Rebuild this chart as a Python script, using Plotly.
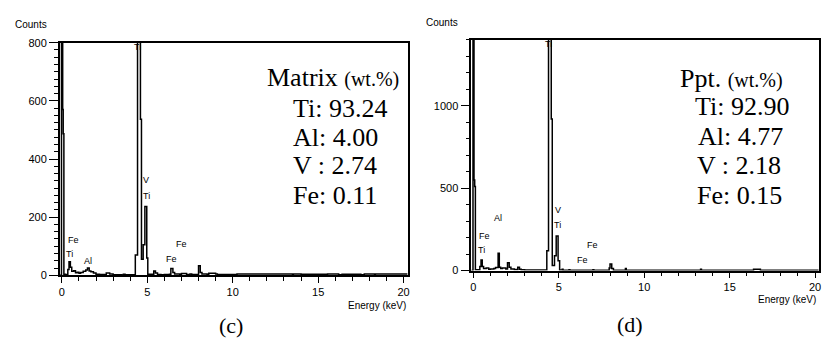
import plotly.graph_objects as go

W, H = 824, 347

# ---- spectrum (c): Matrix ----
energy_c = [-0.12, -0.02, 0.05, 0.08, 0.12, 0.2, 0.35, 0.42, 0.5, 0.58,
            0.7, 0.8, 0.9, 1.0, 1.1, 1.25, 1.4, 1.5, 1.6, 1.7,
            1.85, 2.0, 2.2, 2.5, 2.6, 2.8, 3.0, 3.5, 3.6, 3.7,
            4.2, 4.3, 4.43, 4.6, 4.66, 4.76, 4.86, 4.97, 5.03, 5.3,
            5.38, 5.48, 5.6, 5.8, 6.0, 6.3, 6.38, 6.5, 6.6, 6.9,
            7.0, 7.3, 7.5, 7.6, 7.95, 8.0, 8.1, 8.2, 8.5, 8.6,
            9.0, 9.1, 10.2, 10.25, 13.5, 13.55, 14.0, 14.05, 15.5, 15.55,
            16.2, 16.4, 17.5, 17.7, 18.3, 18.35, 20.2]
counts_c = [0, 3000, 570, 487, 4, 3, 20, 47, 28, 14,
            16, 9, 11, 7, 10, 14, 18, 25, 15, 12,
            8, 4, 3, 2, 8, 5, 2, 1, 4, 2,
            2, 70, 3000, 537, 55, 105, 237, 60, 4, 3,
            15, 8, 3, 2, 3, 4, 24, 10, 5, 4,
            6, 3, 5, 3, 3, 33, 10, 5, 4, 7,
            5, 3, 2, 5, 2, 5, 2, 4, 2, 5,
            2, 4, 2, 5, 2, 5, 2]

# ---- spectrum (d): Ppt. ----
energy_d = [-0.12, -0.02, 0.04, 0.08, 0.12, 0.2, 0.38, 0.45, 0.52, 0.6,
            0.75, 0.9, 1.0, 1.2, 1.3, 1.45, 1.52, 1.6, 1.7, 1.9,
            2.0, 2.1, 2.2, 2.4, 2.6, 2.7, 2.8, 3.0, 4.3, 4.4,
            4.56, 4.62, 4.75, 4.85, 4.96, 5.05, 5.2, 5.25, 5.6, 5.65,
            7.0, 7.05, 7.95, 8.0, 8.1, 8.2, 8.9, 8.95, 13.3, 13.35,
            16.4, 16.8, 20.2]
counts_d = [0, 3000, 550, 510, 5, 4, 25, 64, 25, 12,
            15, 8, 10, 12, 18, 105, 20, 12, 15, 10,
            47, 20, 10, 6, 20, 8, 4, 3, 120, 3000,
            920, 30, 90, 210, 60, 3, 8, 2, 5, 2,
            5, 2, 15, 40, 12, 2, 12, 2, 8, 2,
            8, 2, 2]

assert len(energy_c) == len(counts_c)
assert len(energy_d) == len(counts_d)

comp_c = ["Ti: 93.24", "Al: 4.00", "V : 2.74", "Fe: 0.11"]
comp_d = ["Ti: 92.90", "Al: 4.77", "V : 2.18", "Fe: 0.15"]


def fx(px):
    return px / W


def fy(py):
    return 1 - py / H


fig = go.Figure()
fig.add_trace(go.Scatter(x=energy_c, y=counts_c, mode="lines", line_shape="hv",
                         line=dict(color="black", width=1.5), xaxis="x", yaxis="y",
                         showlegend=False, hoverinfo="skip"))
fig.add_trace(go.Scatter(x=energy_d, y=counts_d, mode="lines", line_shape="hv",
                         line=dict(color="black", width=1.5), xaxis="x2", yaxis="y2",
                         showlegend=False, hoverinfo="skip"))

tickfont = dict(family="Liberation Sans", size=11, color="black")


def xax(domain, anchor):
    return dict(domain=domain, anchor=anchor, range=[-0.12, 20.23], dtick=5, tick0=0,
                ticks="outside", ticklen=6, tickwidth=1.2, tickcolor="black",
                showline=True, linecolor="black", linewidth=1.5, mirror=True,
                showgrid=False, zeroline=False, tickfont=tickfont,
                ticklabeloverflow="allow",
                minor=dict(dtick=1, ticks="outside", ticklen=4, tickcolor="black", showgrid=False))


def yax(domain, anchor, rng, dt, mdt):
    return dict(domain=domain, anchor=anchor, range=rng, dtick=dt, tick0=0,
                ticks="outside", ticklen=9, tickwidth=1.2, tickcolor="black",
                showline=True, linecolor="black", linewidth=1.5, mirror=True,
                showgrid=False, zeroline=False, tickfont=tickfont,
                minor=dict(dtick=mdt, ticks="outside", ticklen=4, tickcolor="black", showgrid=False))


fig.update_layout(
    width=W, height=H, margin=dict(l=0, r=0, t=0, b=0),
    paper_bgcolor="white", plot_bgcolor="white",
    xaxis=xax([fx(59), fx(408)], "y"),
    yaxis=yax([fy(279), fy(38)], "x", [0, 800], 200, 25),
    xaxis2=xax([fx(472), fx(821)], "y2"),
    yaxis2=yax([fy(274), fy(35)], "x2", [0, 1400], 500, 100),
)

anns = []


def txt(px, py, text, size, family="Liberation Serif", xanchor="left"):
    anns.append(dict(x=fx(px), y=fy(py), xref="paper", yref="paper", text=text,
                     showarrow=False, xanchor=xanchor, yanchor="middle",
                     font=dict(family=family, size=size, color="black")))


small = "Liberation Sans"
# axis captions
txt(30, 19, "Counts", 10, small, "center")
txt(443, 17, "Counts", 10, small, "center")
txt(408, 310, "Energy (keV)", 10, small, "right")
txt(820, 304, "Energy (keV)", 10, small, "right")
txt(231, 331, "(c)", 22, "Liberation Serif", "center")
txt(631, 330, "(d)", 22, "Liberation Serif", "center")

# composition text
txt(265, 74, "Matrix <span style='font-size:20px'>(wt.%)</span>", 26)
for i, s in enumerate(comp_c):
    txt(291, [106, 136, 165, 196][i], s, 26)
txt(679, 75, "Ppt. <span style='font-size:20px'>(wt.%)</span>", 26)
for i, s in enumerate(comp_d):
    txt([695, 698, 697, 697][i], [104, 135, 165, 196][i], s, 26)

# peak labels
peaks_c = [(73, 242, "Fe"), (69, 257, "Ti"), (87, 264, "Al"), (137, 42, "Ti"),
           (146, 180, "V"), (146, 197, "Ti"), (181, 247, "Fe"), (171, 262, "Fe")]
peaks_d = [(499, 220, "Al"), (485, 238, "Fe"), (482, 253, "Ti"), (549, 39, "Ti"),
           (559, 211, "V"), (559, 227, "Ti"), (594, 248, "Fe"), (584, 263, "Fe")]
for px, py, s in peaks_c + peaks_d:
    txt(px, py, s, 9, small, "center")

fig.update_layout(annotations=anns)
fig.write_html("out.html", config={"displayModeBar": False},
               post_script="document.body.style.margin='0';document.body.style.overflow='hidden';")
